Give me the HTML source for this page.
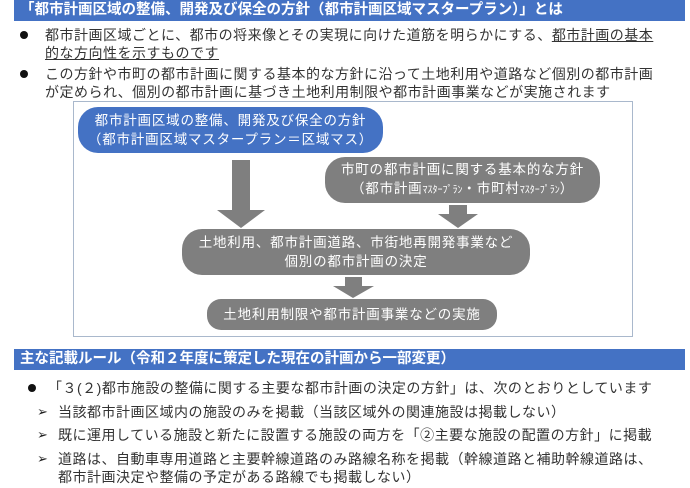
<!DOCTYPE html>
<html><head><meta charset="utf-8"><style>
body{margin:0;width:690px;height:488px;background:#fff;position:relative;overflow:hidden;font-family:"Liberation Sans","Noto Sans CJK JP",sans-serif;}
.a{position:absolute;white-space:nowrap;}
.hdr{position:absolute;left:14px;width:671px;background:#4472c4;color:#fff;font-weight:bold;font-size:14.5px;line-height:21px;padding-left:6px;box-sizing:border-box;}
.t{font-size:14px;color:#333;letter-spacing:0.5px;line-height:18px;}
.pill{position:absolute;border-radius:16px;color:#fff;font-size:13.5px;letter-spacing:0.8px;text-align:center;line-height:19px;display:flex;flex-direction:column;justify-content:center;white-space:nowrap;}
.g{background:#7f7f7f;}
.dot{position:absolute;width:8px;height:8px;border-radius:50%;background:#111;}
.arr{position:absolute;font-size:13px;color:#222;line-height:18px;}
</style></head><body>
<div class="hdr" style="top:0">「都市計画区域の整備、開発及び保全の方針（都市計画区域マスタープラン）」とは</div>
<div class="dot" style="left:20px;top:31px"></div>
<div class="a t" style="left:45px;top:26px">都市計画区域ごとに、都市の将来像とその実現に向けた道筋を明らかにする、<u>都市計画の基本</u></div>
<div class="a t" style="left:45px;top:44px"><u>的な方向性を示すものです</u></div>
<div class="dot" style="left:20px;top:70px"></div>
<div class="a t" style="left:45px;top:65px">この方針や市町の都市計画に関する基本的な方針に沿って土地利用や道路など個別の都市計画</div>
<div class="a t" style="left:45px;top:83px">が定められ、個別の都市計画に基づき土地利用制限や都市計画事業などが実施されます</div>

<div style="position:absolute;left:73px;top:101px;width:558px;height:234px;border:1px solid #a9b8cc;"></div>
<div class="pill" style="left:78px;top:107px;width:305px;height:46px;background:#4472c4;border-radius:20px;"><div>都市計画区域の整備、開発及び保全の方針</div><div>（都市計画区域マスタープラン＝区域マス）</div></div>
<div class="pill g" style="left:325px;top:157px;width:275px;height:46px;border-radius:20px;"><div>市町の都市計画に関する基本的な方針</div><div>（都市計画<span style="font-size:10px;letter-spacing:0">ﾏｽﾀｰﾌﾟﾗﾝ</span>・市町村<span style="font-size:10px;letter-spacing:0">ﾏｽﾀｰﾌﾟﾗﾝ</span>）</div></div>
<svg style="position:absolute;left:0;top:0" width="690" height="488">
<polygon points="232,160 250,160 250,210 265,210 241,228 217,210 232,210" fill="#7f7f7f"/>
<polygon points="449,205 467,205 467,214 478,214 458,228 438,214 449,214" fill="#7f7f7f"/>
<polygon points="345,277 362,277 362,286 374,286 353,298 333,286 345,286" fill="#7f7f7f"/>
</svg>
<div class="pill g" style="left:182px;top:229px;width:348px;height:46px;border-radius:20px;"><div>土地利用、都市計画道路、市街地再開発事業など</div><div>個別の都市計画の決定</div></div>
<div class="pill g" style="left:207px;top:299px;width:290px;height:31px;border-radius:14px;"><div>土地利用制限や都市計画事業などの実施</div></div>

<div class="hdr" style="top:349px">主な記載ルール（令和２年度に策定した現在の計画から一部変更）</div>
<div class="dot" style="left:28px;top:384px"></div>
<div class="a t" style="left:48px;top:379px">「３(２)都市施設の整備に関する主要な都市計画の決定の方針」は、次のとおりとしています</div>
<div class="arr" style="left:37px;top:403px">➢</div>
<div class="a t" style="left:58px;top:403px">当該都市計画区域内の施設のみを掲載（当該区域外の関連施設は掲載しない）</div>
<div class="arr" style="left:37px;top:426px">➢</div>
<div class="a t" style="left:58px;top:426px">既に運用している施設と新たに設置する施設の両方を「②主要な施設の配置の方針」に掲載</div>
<div class="arr" style="left:37px;top:450px">➢</div>
<div class="a t" style="left:58px;top:450px">道路は、自動車専用道路と主要幹線道路のみ路線名称を掲載（幹線道路と補助幹線道路は、</div>
<div class="a t" style="left:58px;top:468px">都市計画決定や整備の予定がある路線でも掲載しない）</div>
</body></html>
